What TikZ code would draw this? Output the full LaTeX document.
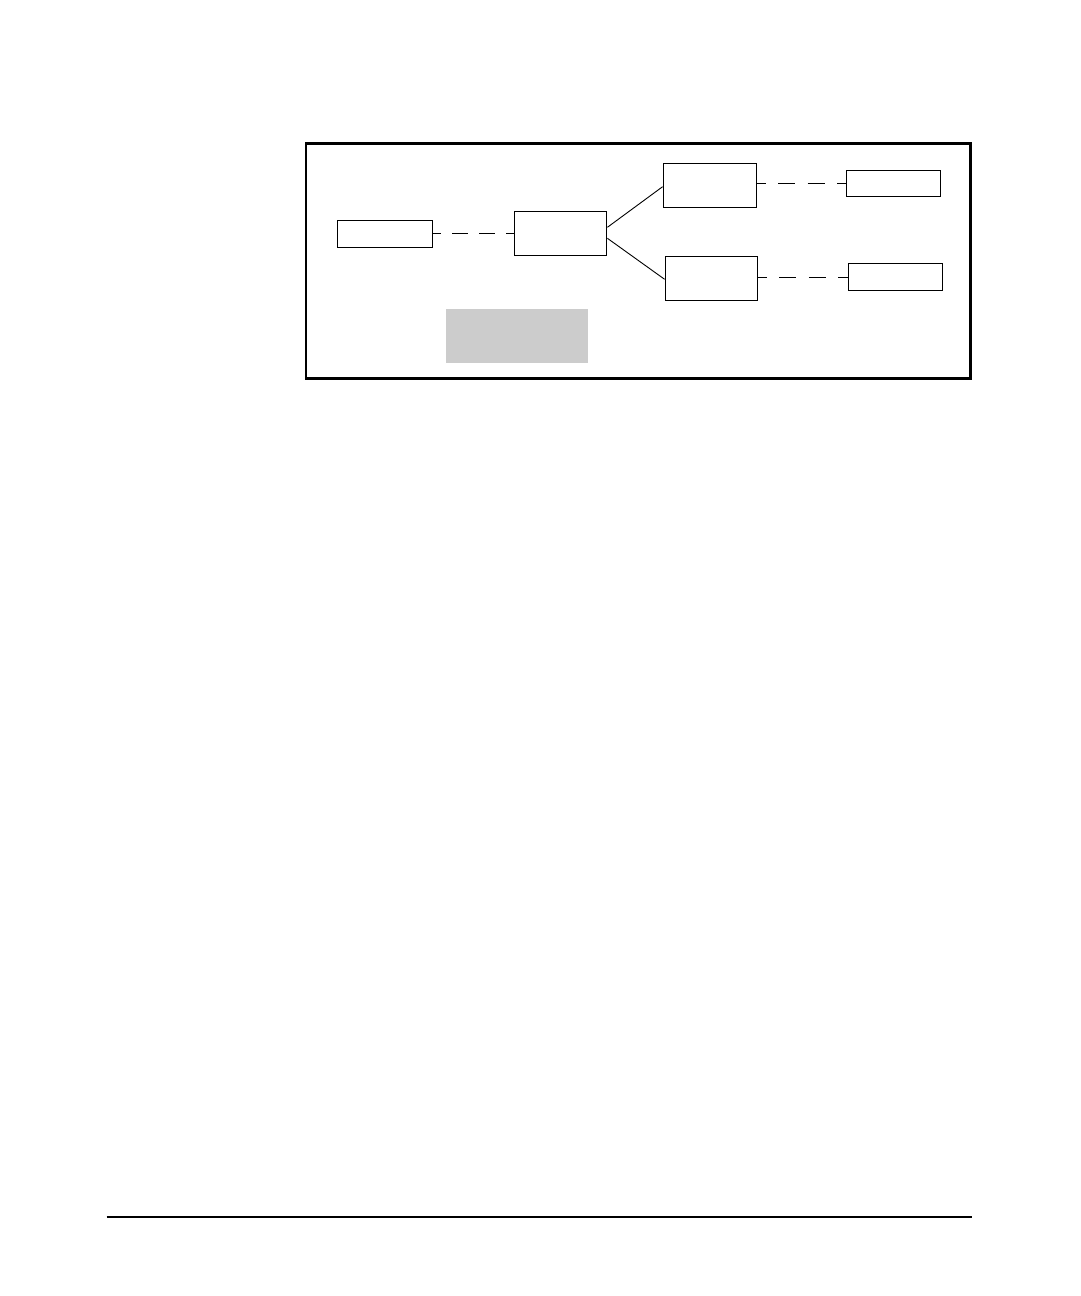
\documentclass[tikz,border=0pt]{standalone}
\begin{document}
\begin{tikzpicture}[x=1pt,y=-1pt,
  frame/.style={draw=black,line width=2.4pt},
  unit/.style={draw=black,line width=1.4pt},
  link/.style={draw=black,line width=0.9pt},
  dashlink/.style={draw=black,line width=1.2pt,dash pattern=on 17pt off 12.5pt,dash phase=8.5pt},
  shade/.style={fill=black!20,draw=none}]
\useasboundingbox (0,0) rectangle (1080,1296);
\fill[white] (0,0) rectangle (1080,1296);
% outer frame
\draw[frame] (306,143.3) rectangle (970.5,378.3);
% boxes
\node[unit,minimum width=95pt,minimum height=27pt,inner sep=0pt] (A) at (384.8,233.8) {};
\node[unit,minimum width=92.4pt,minimum height=44pt,inner sep=0pt] (B) at (560.5,233.3) {};
\node[unit,minimum width=93pt,minimum height=44pt,inner sep=0pt] (C) at (709.8,185.3) {};
\node[unit,minimum width=92.4pt,minimum height=44pt,inner sep=0pt] (D) at (711.5,278.3) {};
\node[unit,minimum width=94.4pt,minimum height=26pt,inner sep=0pt] (E) at (893.5,183.3) {};
\node[unit,minimum width=94pt,minimum height=27pt,inner sep=0pt] (F) at (895.3,276.8) {};
% shaded area
\node[shade,minimum width=142pt,minimum height=54pt,inner sep=0pt] (G) at (517,336) {};
% connectors
\draw[dashlink,dash pattern=on 16pt off 11pt,dash phase=8pt] ([yshift=0.5pt]A.east) -- (B.west);
\draw[link] ([yshift=6pt]B.east) -- ([yshift=-1.4pt]C.west);
\draw[link] ([yshift=-5pt]B.east) -- ([yshift=-1pt]D.west);
\draw[dashlink] ([yshift=2pt]C.east) -- (E.west);
\draw[dashlink] ([yshift=1pt]D.east) -- ([yshift=-0.5pt]F.west);
% footer rule
\coordinate (L1) at (106.7,1217);
\coordinate (L2) at (971.7,1217);
\draw[line width=1.2pt] (L1) -- (L2);
\end{tikzpicture}
\end{document}
